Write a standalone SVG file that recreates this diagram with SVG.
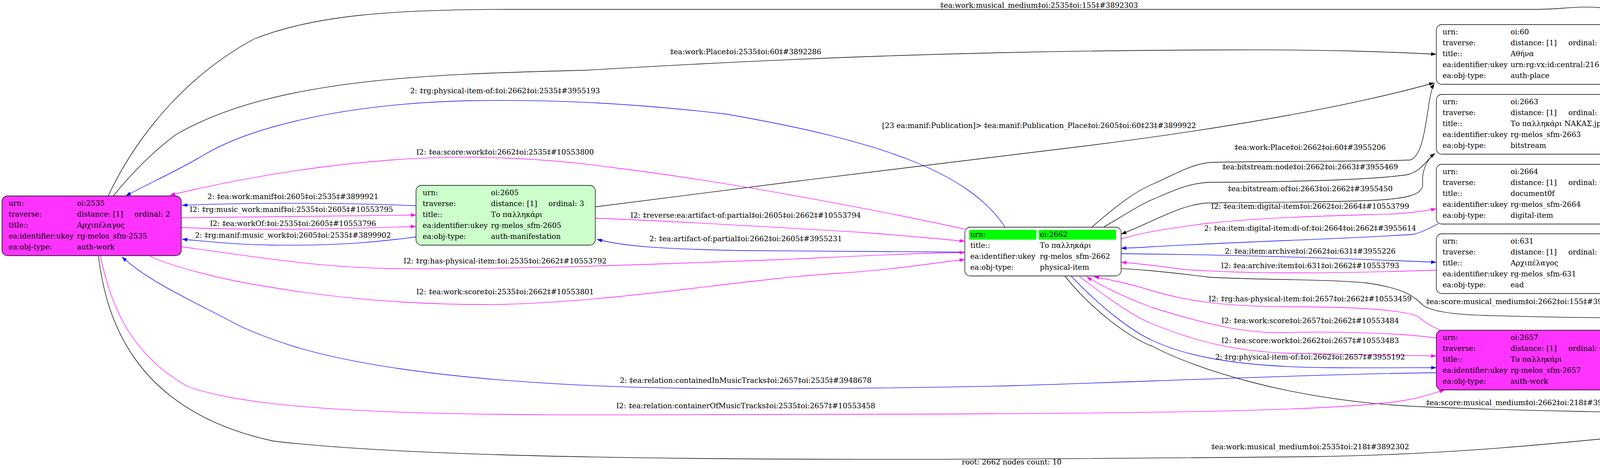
<svg xmlns="http://www.w3.org/2000/svg" width="5180" height="1199" viewBox="0 0 5180 1199">
<style>
text{font-family:"DejaVu Serif","Liberation Serif",serif;font-size:18.67px;fill:#000}
.l{text-anchor:middle}
.n{stroke:#000;stroke-width:1.33}
.e{fill:none;stroke-width:1.33}
.k{stroke:#000}
.b{stroke:#0000ff}
.m{stroke:#ff00ff}
</style>
<defs>
<marker id="ak" markerUnits="userSpaceOnUse" markerWidth="14" markerHeight="10" refX="13.5" refY="5" orient="auto"><path d="M0,0.3 L13.5,5 L0,9.7 z" fill="#000"/></marker>
<marker id="ab" markerUnits="userSpaceOnUse" markerWidth="14" markerHeight="10" refX="13.5" refY="5" orient="auto"><path d="M0,0.3 L13.5,5 L0,9.7 z" fill="#0000ff"/></marker>
<marker id="am" markerUnits="userSpaceOnUse" markerWidth="14" markerHeight="10" refX="13.5" refY="5" orient="auto"><path d="M0,0.3 L13.5,5 L0,9.7 z" fill="#ff00ff"/></marker>
</defs>
<rect width="5180" height="1199" fill="#fff"/>
<g id="edges">
<path class="e k" marker-end="url(#ak)" d="M277,502 C320,410 430,220 650,100 C800,40 1000,24 1300,24 L3929,24 C4000,24 4040,14 4100,20 C4180,35 4240,85 4300,130 C4500,290 4750,500 4890,720"/>
<text class="l" x="2660" y="20">‡ea:work:musical_medium‡oi:2535‡oi:155‡#3892303</text>
<path class="e k" marker-end="url(#ak)" d="M290,502 C340,440 390,390 450,345 C700,200 1100,190 1500,180 C2000,150 2500,130 3107,128 C3400,126 3550,133 3677,139"/>
<text class="l" x="1909" y="139">‡ea:work:Place‡oi:2535‡oi:60‡#3892286</text>
<path class="e b" marker-end="url(#ab)" d="M2573,582 C2480,440 2250,360 1857,292 C1600,262 1400,255 1200,258 C900,265 650,320 520,398 C450,440 380,470 322,502"/>
<text class="l" x="1293" y="239">2: ‡rg:physical-item-of:‡oi:2662‡oi:2535‡#3955193</text>
<path class="e k" marker-end="url(#ak)" d="M1524,530 C1900,480 2400,420 2745,378 C3100,335 3450,275 3672,212"/>
<text class="l" x="2660" y="328">[23 ea:manif:Publication]&gt; ‡ea:manif:Publication_Place‡oi:2605‡oi:60‡23‡#3899922</text>
<path class="e m" marker-end="url(#am)" d="M2470,587 C2300,550 1900,470 1574,430 C1400,405 1200,395 1000,410 C800,425 600,460 435,500"/>
<text class="l" x="1293" y="396">I2: ‡ea:score:work‡oi:2662‡oi:2535‡#10553800</text>
<path class="e b" marker-end="url(#ab)" d="M1065,527 C900,520 650,518 466,526"/>
<text class="l" x="750" y="510">2: ‡ea:work:manif‡oi:2605‡oi:2535‡#3899921</text>
<path class="e m" marker-end="url(#am)" d="M464,558 C650,555 850,552 1065,551"/>
<text class="l" x="746" y="543">I2: ‡rg:music_work:manif‡oi:2535‡oi:2605‡#10553795</text>
<path class="e m" marker-end="url(#am)" d="M464,583 C650,590 850,588 1065,580"/>
<text class="l" x="750" y="579">I2: ‡ea:workOf:‡oi:2535‡oi:2605‡#10553796</text>
<path class="e b" marker-end="url(#ab)" d="M1065,607 C1000,615 900,630 700,628 C600,627 530,618 466,613"/>
<text class="l" x="750" y="609">2: ‡rg:manif:music_work‡oi:2605‡oi:2535‡#3899902</text>
<path class="e m" marker-end="url(#am)" d="M1524,559 C1700,565 2033,585 2200,595 C2300,602 2400,612 2470,618"/>
<text class="l" x="1909" y="558">I2: ‡reverse:ea:artifact-of:partial‡oi:2605‡oi:2662‡#10553794</text>
<path class="e b" marker-end="url(#ab)" d="M2470,646 C2300,646 2100,645 1900,642 C1700,638 1600,632 1528,613"/>
<text class="l" x="1909" y="618">2: ‡ea:artifact-of:partial‡oi:2662‡oi:2605‡#3955231</text>
<path class="e m" marker-end="url(#am)" d="M464,632 C600,650 800,685 1000,688 C1300,692 1700,676 2000,665 C2200,656 2350,648 2470,647"/>
<text class="l" x="1293" y="675">I2: ‡rg:has-physical-item:‡oi:2535‡oi:2662‡#10553792</text>
<path class="e m" marker-end="url(#am)" d="M384,656 C420,675 550,715 700,737 C900,770 1100,782 1280,780 C1600,772 1900,715 2148,700 C2300,690 2400,672 2470,665"/>
<text class="l" x="1293" y="754">I2: ‡ea:work:score‡oi:2535‡oi:2662‡#10553801</text>
<path class="e k" marker-end="url(#ak)" d="M2795,582 C2855,530 2905,490 2955,470 C3005,448 3050,420 3100,416 C3300,412 3500,414 3610,410 C3640,400 3648,330 3656,280 C3660,250 3665,225 3672,214"/>
<text class="l" x="3354" y="384">‡ea:work:Place‡oi:2662‡oi:60‡#3955206</text>
<path class="e k" marker-end="url(#ak)" d="M2825,582 C2880,550 2925,520 2965,505 C3010,485 3050,468 3100,467 C3300,466 3500,462 3600,448 C3640,440 3650,410 3674,393"/>
<text class="l" x="3354" y="434">‡ea:bitstream:node‡oi:2662‡oi:2663‡#3955469</text>
<path class="e k" marker-end="url(#ak)" d="M3674,393 C3650,410 3640,440 3642,470 C3645,500 3600,510 3500,514 C3300,520 3150,518 3090,520 C3020,525 2960,565 2870,600"/>
<text class="l" x="3354" y="490">‡ea:bitstream:of‡oi:2663‡oi:2662‡#3955450</text>
<path class="e m" marker-end="url(#am)" d="M2870,612 C2910,600 2955,590 3084,573 C3250,555 3450,552 3571,548 C3620,545 3650,540 3677,535"/>
<text class="l" x="3354" y="535">I2: ‡ea:item:digital-item‡oi:2662‡oi:2664‡#10553799</text>
<path class="e b" marker-end="url(#ab)" d="M3682,573 C3660,585 3640,595 3620,600 C3500,610 3200,618 2950,632 C2925,634 2900,635 2870,636"/>
<text class="l" x="3354" y="591">2: ‡ea:item:digital-item:di-of:‡oi:2664‡oi:2662‡#3955614</text>
<path class="e b" marker-end="url(#ab)" d="M2870,650 C3100,652 3400,660 3677,672"/>
<text class="l" x="3354" y="650">2: ‡ea:item:archive‡oi:2662‡oi:631‡#3955226</text>
<path class="e m" marker-end="url(#am)" d="M3677,692 C3450,700 3200,703 3027,690 C2985,684 2925,676 2870,672"/>
<text class="l" x="3354" y="687">I2: ‡ea:archive:item‡oi:631‡oi:2662‡#10553793</text>
<path class="e k" marker-end="url(#ak)" d="M2866,688 C2905,690 2950,692 3094,710 C3200,717 3400,715 3500,725 C3600,740 3620,760 3644,783 C3670,800 3730,806 3800,808 C4000,814 4200,816 4380,814 C4500,812 4600,808 4716,806"/>
<text class="l" x="3906" y="779">‡ea:score:musical_medium‡oi:2662‡oi:155‡#3955213</text>
<path class="e m" marker-end="url(#am)" d="M3688,846 C3660,835 3640,820 3629,810 C3580,792 3450,786 3300,786 C3150,785 3050,775 2950,745 C2885,725 2835,715 2800,709"/>
<text class="l" x="3354" y="772">I2: ‡rg:has-physical-item:‡oi:2657‡oi:2662‡#10553459</text>
<path class="e m" marker-end="url(#am)" d="M3677,866 C3600,855 3450,848 3300,852 C3200,856 3100,835 2950,788 C2875,760 2815,730 2782,709"/>
<text class="l" x="3354" y="828">I2: ‡ea:work:score‡oi:2657‡oi:2662‡#10553484</text>
<path class="e m" marker-end="url(#am)" d="M2762,707 C2830,760 2900,810 2950,830 C3050,870 3150,900 3300,905 C3450,908 3550,910 3677,912"/>
<text class="l" x="3354" y="879">I2: ‡ea:score:work‡oi:2662‡oi:2657‡#10553483</text>
<path class="e b" marker-end="url(#ab)" d="M2742,707 C2820,790 2900,850 2950,872 C3050,920 3200,940 3400,942 C3500,943 3600,942 3677,942"/>
<text class="l" x="3354" y="921">2: ‡rg:physical-item-of:‡oi:2662‡oi:2657‡#3955192</text>
<path class="e k" marker-end="url(#ak)" d="M2726,707 C2800,800 2900,870 2950,887 C3050,940 3300,1030 3660,1043 C3900,1052 4200,1058 4380,1059 C4500,1058 4600,1055 4716,1052"/>
<text class="l" x="3906" y="1038">‡ea:score:musical_medium‡oi:2662‡oi:218‡#3955212</text>
<path class="e k" marker-end="url(#ak)" d="M4135,899 C4250,890 4400,870 4716,835"/>
<text class="l" x="4437" y="831">‡ea:work:musical_medium‡oi:2657‡oi:155‡#3948684</text>
<path class="e k" marker-end="url(#ak)" d="M4135,949 C4250,958 4400,975 4716,1017"/>
<text class="l" x="4437" y="951">‡ea:work:musical_medium‡oi:2657‡oi:218‡#3948683</text>
<path class="e b" marker-end="url(#ab)" d="M3677,955 C3400,958 3000,975 2600,988 C2300,995 2100,996 1909,996 C1400,996 1000,960 760,890 C680,865 620,840 585,820 C480,765 380,720 312,658"/>
<text class="l" x="1909" y="981">2: ‡ea:relation:containedInMusicTracks‡oi:2657‡oi:2535‡#3948678</text>
<path class="e m" marker-end="url(#am)" d="M257,656 C280,760 320,900 480,990 C700,1070 1300,1064 1909,1062 C2700,1060 3400,1060 3600,1025 C3640,1018 3670,1008 3698,999"/>
<text class="l" x="1909" y="1046">I2: ‡ea:relation:containerOfMusicTracks‡oi:2535‡oi:2657‡#10553458</text>
<path class="e k" marker-end="url(#ak)" d="M252,656 C270,800 330,1050 700,1130 C1200,1190 2500,1178 3354,1170 C3900,1163 4300,1095 4716,1066"/>
<text class="l" x="3354" y="1151">‡ea:work:musical_medium‡oi:2535‡oi:218‡#3892302</text>
</g>
<g id="node-oi2535">
<rect class="n" x="5" y="502" width="459" height="153" rx="14" fill="#ff33ff"/>
<text x="22" y="527">urn:</text><text x="197" y="527">oi:2535</text>
<text x="22" y="555">traverse:</text><text x="197" y="555">distance: [1]</text><text x="344" y="555">ordinal: 2</text>
<text x="22" y="583">title::</text><text x="197" y="583">Αρχιπέλαγος</text>
<text x="22" y="611">ea:identifier:ukey</text><text x="197" y="611">rg-melos_sfm-2535</text>
<text x="22" y="639">ea:obj-type:</text><text x="197" y="639">auth-work</text>
</g>
<g id="node-oi2605">
<rect class="n" x="1065" y="475" width="459" height="153" rx="14" fill="#ccffcc"/>
<text x="1082" y="500">urn:</text><text x="1257" y="500">oi:2605</text>
<text x="1082" y="528">traverse:</text><text x="1257" y="528">distance: [1]</text><text x="1404" y="528">ordinal: 3</text>
<text x="1082" y="556">title::</text><text x="1257" y="556">Το παλληκάρι</text>
<text x="1082" y="584">ea:identifier:ukey</text><text x="1257" y="584">rg-melos_sfm-2605</text>
<text x="1082" y="612">ea:obj-type:</text><text x="1257" y="612">auth-manifestation</text>
</g>
<g id="node-oi2662">
<rect class="n" x="2470" y="582" width="400" height="125" rx="14" fill="#fff"/>
<rect x="2481" y="589" width="172" height="25" fill="#00ff00"/>
<rect x="2659" y="589" width="198" height="25" fill="#00ff00"/>
<text x="2484" y="607">urn:</text><text x="2662" y="607">oi:2662</text>
<text x="2484" y="635">title::</text><text x="2662" y="635">Το παλληκάρι</text>
<text x="2484" y="663">ea:identifier:ukey</text><text x="2662" y="663">rg-melos_sfm-2662</text>
<text x="2484" y="691">ea:obj-type:</text><text x="2662" y="691">physical-item</text>
</g>
<g id="node-oi60">
<rect class="n" x="3677" y="63" width="458" height="153" rx="14" fill="#fff"/>
<text x="3693" y="88">urn:</text><text x="3867" y="88">oi:60</text>
<text x="3693" y="116">traverse:</text><text x="3867" y="116">distance: [1]</text><text x="4015" y="116">ordinal: 7</text>
<text x="3693" y="144">title::</text><text x="3867" y="144">Αθήνα</text>
<text x="3693" y="172">ea:identifier:ukey</text><text x="3867" y="172">urn:rg:vx:id:central:216</text>
<text x="3693" y="200">ea:obj-type:</text><text x="3867" y="200">auth-place</text>
</g>
<g id="node-oi2663">
<rect class="n" x="3677" y="242" width="458" height="153" rx="14" fill="#fff"/>
<text x="3693" y="267">urn:</text><text x="3867" y="267">oi:2663</text>
<text x="3693" y="295">traverse:</text><text x="3867" y="295">distance: [1]</text><text x="4015" y="295">ordinal: 5</text>
<text x="3693" y="323">title::</text><text x="3867" y="323">Το παλληκάρι ΝΑΚΑΣ.jpg</text>
<text x="3693" y="351">ea:identifier:ukey</text><text x="3867" y="351">rg-melos_sfm-2663</text>
<text x="3693" y="379">ea:obj-type:</text><text x="3867" y="379">bitstream</text>
</g>
<g id="node-oi2664">
<rect class="n" x="3677" y="421" width="458" height="153" rx="14" fill="#fff"/>
<text x="3693" y="446">urn:</text><text x="3867" y="446">oi:2664</text>
<text x="3693" y="474">traverse:</text><text x="3867" y="474">distance: [1]</text><text x="4015" y="474">ordinal: 6</text>
<text x="3693" y="502">title::</text><text x="3867" y="502">document0f</text>
<text x="3693" y="530">ea:identifier:ukey</text><text x="3867" y="530">rg-melos_sfm-2664</text>
<text x="3693" y="558">ea:obj-type:</text><text x="3867" y="558">digital-item</text>
</g>
<g id="node-oi631">
<rect class="n" x="3677" y="599" width="458" height="153" rx="14" fill="#fff"/>
<text x="3693" y="624">urn:</text><text x="3867" y="624">oi:631</text>
<text x="3693" y="652">traverse:</text><text x="3867" y="652">distance: [1]</text><text x="4015" y="652">ordinal: 1</text>
<text x="3693" y="680">title::</text><text x="3867" y="680">Αρχιπέλαγος</text>
<text x="3693" y="708">ea:identifier:ukey</text><text x="3867" y="708">rg-melos_sfm-631</text>
<text x="3693" y="736">ea:obj-type:</text><text x="3867" y="736">ead</text>
</g>
<g id="node-oi2657">
<rect class="n" x="3677" y="846" width="458" height="153" rx="14" fill="#ff33ff"/>
<text x="3693" y="871">urn:</text><text x="3867" y="871">oi:2657</text>
<text x="3693" y="899">traverse:</text><text x="3867" y="899">distance: [1]</text><text x="4015" y="899">ordinal: 4</text>
<text x="3693" y="927">title::</text><text x="3867" y="927">Το παλληκάρι</text>
<text x="3693" y="955">ea:identifier:ukey</text><text x="3867" y="955">rg-melos_sfm-2657</text>
<text x="3693" y="983">ea:obj-type:</text><text x="3867" y="983">auth-work</text>
</g>
<g id="node-oi155">
<rect class="n" x="4716" y="721" width="457" height="153" rx="14" fill="#fff"/>
<text x="4732" y="746">urn:</text><text x="4906" y="746">oi:155</text>
<text x="4732" y="774">traverse:</text><text x="4906" y="774">distance: [1]</text><text x="5054" y="774">ordinal: 9</text>
<text x="4732" y="802">title::</text><text x="4906" y="802">Πιάνο</text>
<text x="4732" y="830">ea:identifier:ukey</text><text x="4906" y="830">urn:rg:vx:id:central:136</text>
<text x="4732" y="858">ea:obj-type:</text><text x="4906" y="858">auth-concept</text>
</g>
<g id="node-oi218">
<rect class="n" x="4716" y="968" width="457" height="153" rx="14" fill="#fff"/>
<text x="4732" y="993">urn:</text><text x="4906" y="993">oi:218</text>
<text x="4732" y="1021">traverse:</text><text x="4906" y="1021">distance: [1]</text><text x="5054" y="1021">ordinal: 8</text>
<text x="4732" y="1049">title::</text><text x="4906" y="1049">Φωνή</text>
<text x="4732" y="1077">ea:identifier:ukey</text><text x="4906" y="1077">urn:rg:vx:id:central:145</text>
<text x="4732" y="1105">ea:obj-type:</text><text x="4906" y="1105">auth-concept</text>
</g>
<text class="l" x="2590" y="1190">root: 2662 nodes count: 10</text>
</svg>
